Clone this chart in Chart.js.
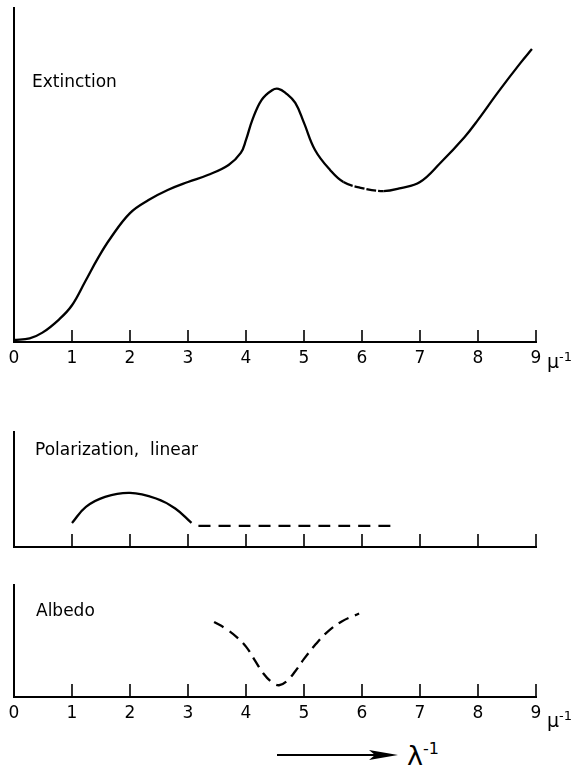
<!DOCTYPE html>
<html>
<head>
<meta charset="utf-8">
<script src="https://cdn.jsdelivr.net/npm/chart.js@4.4.0/dist/chart.umd.min.js"></script>
<style>
  html, body { margin: 0; padding: 0; background: #fff; }
  #page { position: relative; width: 580px; height: 766px; font-family: "DejaVu Sans", sans-serif; color: #000; }
  canvas { position: absolute; left: 0; }
  .lbl { position: absolute; font-size: 17px; line-height: 17px; white-space: nowrap; }
  .unit { position: absolute; font-size: 19px; line-height: 19px; white-space: nowrap; }
  .unit sup { font-size: 13px; vertical-align: 7px; }
</style>
</head>
<body>
<div id="page">
  <canvas id="extChart" width="580" height="372" style="top:0"></canvas>
  <canvas id="polChart" width="580" height="130" style="top:420px"></canvas>
  <canvas id="albChart" width="580" height="150" style="top:577px"></canvas>

  <div class="lbl" style="left:32px;top:73px">Extinction</div>
  <div class="lbl" style="left:35px;top:441px">Polarization, &nbsp;linear</div>
  <div class="lbl" style="left:36px;top:602px">Albedo</div>

  <div class="unit" style="left:547px;top:347px">μ<sup>-1</sup></div>
  <div class="unit" style="left:547px;top:706px">μ<sup>-1</sup></div>

  <svg style="position:absolute;left:277px;top:748px" width="122" height="14">
    <line x1="0" y1="7" x2="100" y2="7" stroke="#000" stroke-width="2"/>
    <polygon points="92,2 121,7 92,12 98,7" fill="#000"/>
  </svg>
  <div class="unit" style="left:407px;top:735px;font-size:27px;line-height:27px">λ<sup style="font-size:16px;vertical-align:11px">-1</sup></div>
</div>

<script>
// x axis: wave number in inverse microns
const xTicks = [0, 1, 2, 3, 4, 5, 6, 7, 8, 9];

// extinction curve (arbitrary units, 0..10)
const extX = [0, 0.27, 0.49, 0.78, 1.0, 1.23, 1.45, 1.66, 2.0, 2.32, 2.65, 3.0, 3.34, 3.7, 3.91, 4.0, 4.11, 4.27, 4.45, 4.56, 4.68, 4.85, 5.0, 5.19, 5.45, 5.68, 6.0, 6.37, 6.67, 7.0, 7.35, 7.77, 8.0, 8.35, 8.73, 8.93];
const extY = [0.06, 0.11, 0.28, 0.68, 1.1, 1.82, 2.52, 3.1, 3.86, 4.25, 4.55, 4.79, 5.0, 5.3, 5.66, 6.05, 6.65, 7.25, 7.54, 7.58, 7.46, 7.16, 6.56, 5.75, 5.15, 4.79, 4.61, 4.52, 4.61, 4.79, 5.36, 6.14, 6.65, 7.49, 8.35, 8.77];

// linear polarization: measured part and extrapolated (dashed) part
const polX = [1.0, 1.24, 1.57, 2.0, 2.45, 2.78, 3.06];
const polY = [2.09, 3.49, 4.36, 4.71, 4.22, 3.35, 2.09];
const polDashX = [3.18, 6.55];
const polDashY = [1.83, 1.83];

// albedo (dashed)
const albX = [3.45, 3.65, 3.85, 4.0, 4.15, 4.3, 4.45, 4.57, 4.7, 4.85, 5.0, 5.2, 5.4, 5.65, 5.95];
const albY = [6.7, 6.1, 5.3, 4.5, 3.3, 2.1, 1.3, 1.05, 1.4, 2.3, 3.4, 4.7, 5.8, 6.75, 7.45];

const INK = '#000';

function pts(xs, ys) {
  return xs.map((x, i) => ({ x: x, y: ys[i] }));
}

// tick marks pointing up into the plot
const innerTicks = {
  id: 'innerTicks',
  afterDraw(chart, args, opts) {
    const { ctx, chartArea, scales } = chart;
    const xs = scales.x;
    ctx.save();
    ctx.strokeStyle = INK;
    ctx.lineWidth = 1.6;
    xs.ticks.forEach(t => {
      const px = xs.getPixelForValue(t.value);
      ctx.beginPath();
      ctx.moveTo(px, chartArea.bottom);
      ctx.lineTo(px, chartArea.bottom - opts.len);
      ctx.stroke();
    });
    ctx.restore();
  }
};

function makeChart(id, datasets, pad, showLabels, xHeight, tickLen) {
  return new Chart(document.getElementById(id), {
    type: 'line',
    data: { datasets: datasets },
    options: {
      responsive: false,
      animation: false,
      events: [],
      layout: { padding: pad },
      elements: {
        point: { radius: 0 },
        line: { borderColor: INK, borderWidth: 2.3, tension: 0.4, fill: false }
      },
      plugins: {
        legend: { display: false },
        tooltip: { enabled: false },
        innerTicks: { len: tickLen }
      },
      scales: {
        x: {
          type: 'linear', min: 0, max: 9,
          afterBuildTicks: s => { s.ticks = xTicks.map(v => ({ value: v })); },
          grid: { display: false, drawTicks: false },
          border: { display: true, color: INK, width: 2 },
          ticks: { display: showLabels, padding: 6, color: INK, font: { family: 'DejaVu Sans', size: 17 } },
          afterFit: s => { s.height = xHeight; }
        },
        y: {
          type: 'linear', min: 0, max: 10,
          grid: { display: false, drawTicks: false },
          border: { display: true, color: INK, width: 2 },
          ticks: { display: false },
          afterFit: s => { s.width = 0; }
        }
      }
    },
    plugins: [innerTicks]
  });
}

document.addEventListener('DOMContentLoaded', function() {
  // short broken stretch of the extinction curve around the minimum
  const gap = ctx => (ctx.p0.parsed.x >= 5.6 && ctx.p1.parsed.x <= 6.4) ? [10, 2] : undefined;

  makeChart('extChart', [
    { data: pts(extX, extY), segment: { borderDash: gap } }
  ], { left: 14, right: 44, top: 8, bottom: 0 }, true, 30, 12);

  makeChart('polChart', [
    { data: pts(polX, polY) },
    { data: pts(polDashX, polDashY), borderDash: [12, 8] }
  ], { left: 14, right: 44, top: 12, bottom: 0 }, false, 3, 13);

  makeChart('albChart', [
    { data: pts(albX, albY), borderDash: [11, 7] }
  ], { left: 14, right: 44, top: 8, bottom: 0 }, true, 30, 13);
});
</script>
</body>
</html>
